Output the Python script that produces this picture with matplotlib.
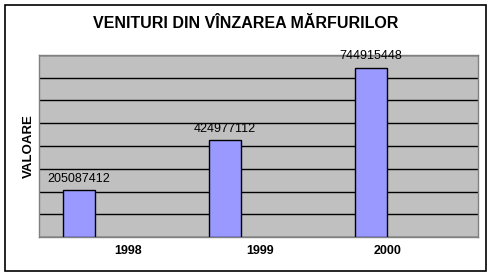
import matplotlib
matplotlib.use("Agg")
import matplotlib.pyplot as plt
from matplotlib.patches import Rectangle

# chart data
years = ["1998", "1999", "2000"]
revenues = [205087412, 424977112, 744915448]
title = "VENITURI DIN VÎNZAREA MĂRFURILOR"
y_label = "VALOARE"

plt.rcParams["font.family"] = ["Liberation Sans", "DejaVu Sans"]

fig = plt.figure(figsize=(4.93, 2.77), dpi=100)
fig.patch.set_facecolor("white")

# outer chart frame
fig.patches.append(Rectangle((5 / 493, 6 / 277), 481 / 493, 266 / 277,
                             transform=fig.transFigure, fill=False,
                             edgecolor="black", linewidth=1.2))

ax = fig.add_axes([39 / 493, 40 / 277, 439 / 493, 182 / 277])
ax.set_facecolor("#C0C0C0")

x = list(range(len(years)))
bars = ax.bar(x, revenues, width=0.22, color="#9999FF", edgecolor="black",
              linewidth=1, zorder=3)

ax.set_xlim(-0.274, 2.733)
ax.set_ylim(0, 800000000)
ax.set_yticks(range(0, 800000001, 100000000))
ax.yaxis.grid(True, color="black", linewidth=1, zorder=1)
ax.set_axisbelow(True)
ax.tick_params(axis="y", left=False, labelleft=False)

# category labels sit to the right of the bars, like the original
label_offsets = [0.336, 0.24, 0.116]
ax.set_xticks([i + o for i, o in zip(x, label_offsets)])
ax.set_xticklabels(years, fontsize=9, fontweight="bold")
ax.tick_params(axis="x", bottom=False, pad=2)

for s in ax.spines.values():
    s.set_color("#808080")
    s.set_linewidth(1)

for b, v in zip(bars, revenues):
    ax.annotate(str(v), (b.get_x() + b.get_width() / 2, v),
                xytext=(0, 4), textcoords="offset points",
                ha="center", va="bottom", fontsize=9)

ax.set_ylabel(y_label, fontsize=9.5, fontweight="bold", labelpad=3)
fig.text(246 / 493, 1 - 24 / 277, title, ha="center", va="center",
         fontsize=11.5, fontweight="bold")

fig.savefig("out.png", dpi=100)
